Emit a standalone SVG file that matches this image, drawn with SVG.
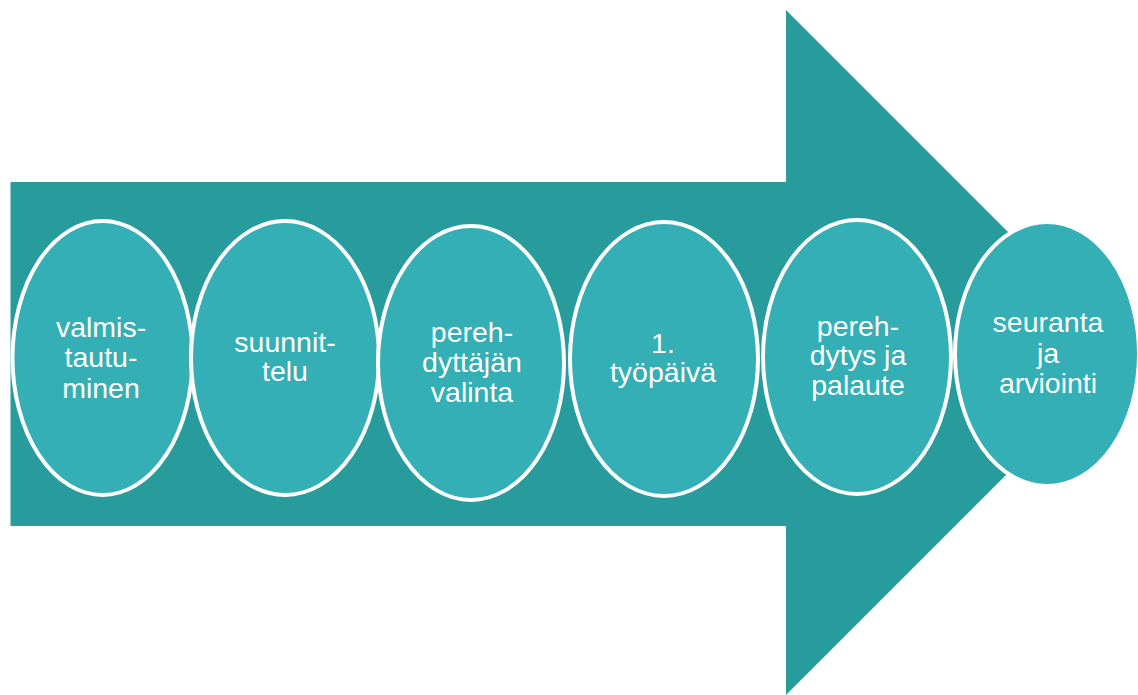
<svg xmlns="http://www.w3.org/2000/svg" width="1138" height="695" viewBox="0 0 1138 695">
<style>
.node ellipse{fill:#33afb5;stroke:#ffffff;stroke-width:4}
.node text{font-family:"Liberation Sans",Arial,sans-serif;font-size:28.5px;fill:#ffffff;text-anchor:middle}
</style>
<rect width="1138" height="695" fill="#ffffff"/>
<g id="connectors">
<path id="arrow" d="M10.5,182 L786,182 L786,10 L1128.5,352.5 L786,695 L786,526 L10.5,526 Z" fill="#289b9d"/>
</g>
<g id="n1" class="node"><ellipse cx="102.5" cy="358" rx="90" ry="137"/><text x="101" y="337">valmis-</text><text x="101" y="367">tautu-</text><text x="101" y="398">minen</text></g>
<g id="n2" class="node"><ellipse cx="285" cy="358" rx="94" ry="137"/><text x="285" y="352">suunnit-</text><text x="285" y="381">telu</text></g>
<g id="n3" class="node"><ellipse cx="471" cy="363" rx="93" ry="137"/><text x="472" y="342">pereh-</text><text x="472" y="372">dyttäjän</text><text x="472" y="402">valinta</text></g>
<g id="n4" class="node"><ellipse cx="664" cy="359" rx="94" ry="137"/><text x="663" y="353">1.</text><text x="663" y="382">työpäivä</text></g>
<g id="n5" class="node"><ellipse cx="857" cy="357" rx="94" ry="137"/><text x="858" y="336">pereh-</text><text x="858" y="365">dytys ja</text><text x="858" y="395">palaute</text></g>
<g id="n6" class="node"><ellipse cx="1047" cy="354" rx="92" ry="132"/><text x="1048" y="332">seuranta</text><text x="1048" y="363">ja</text><text x="1048" y="393">arviointi</text></g>
</svg>
